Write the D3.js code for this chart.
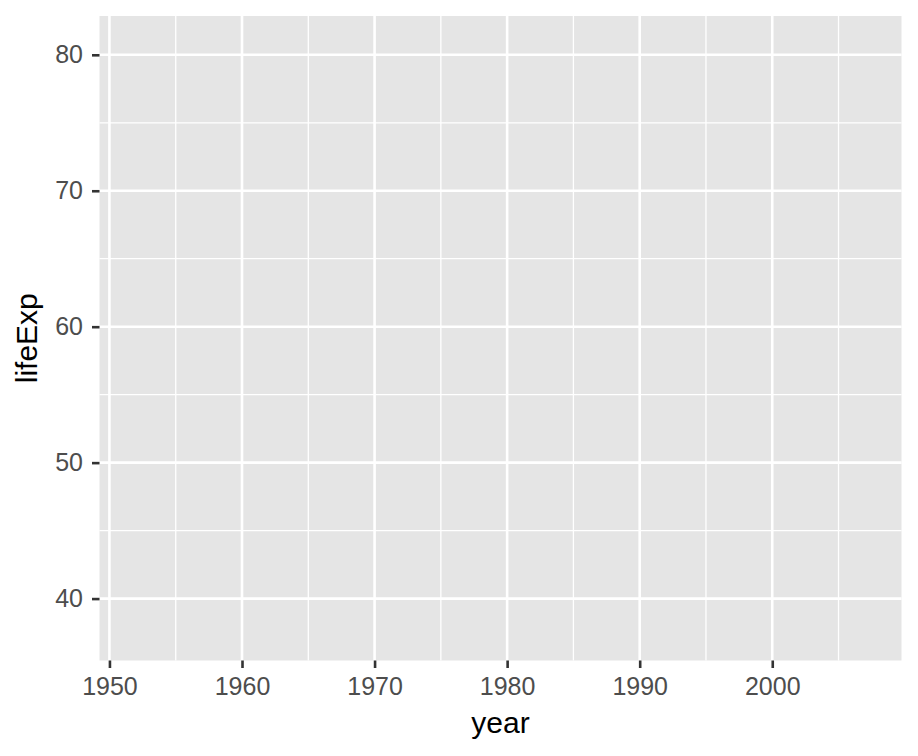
<!DOCTYPE html>
<html><head><meta charset="utf-8">
<script src="https://cdn.jsdelivr.net/npm/d3@7"></script>
<style>body{margin:0;background:#fff}svg{display:block;font-family:"Liberation Sans",Arial,sans-serif}</style>
</head><body><svg id="c" width="918" height="756"></svg>
<script>
const yearRange = [1952, 2007];
const lifeExpRange = [37.6, 80.7];
const xTicks = [1950, 1960, 1970, 1980, 1990, 2000];
const xMinor = [1955, 1965, 1975, 1985, 1995, 2005];
const yTicks = [40, 50, 60, 70, 80];
const yMinor = [35, 45, 55, 65, 75];

const svg = d3.select("#c");
const L = 99.5, R = 901.5, T = 16, B = 660.5;
const pad = (r) => { const d = (r[1]-r[0])*0.05; return [r[0]-d, r[1]+d]; };
const x = d3.scaleLinear().domain(pad(yearRange)).range([L, R]);
const y = d3.scaleLinear().domain(pad(lifeExpRange)).range([B, T]);

svg.append("rect").attr("x", L).attr("y", T).attr("width", R-L).attr("height", B-T).attr("fill", "#e5e5e5");

const inX = v => { const p = x(v); return p >= L && p <= R; };
const inY = v => { const p = y(v); return p >= T && p <= B; };
const g = svg.append("g");
g.selectAll(".vmin").data(xMinor.filter(inX)).join("line")
 .attr("x1", d=>x(d)).attr("x2", d=>x(d)).attr("y1", T).attr("y2", B)
 .attr("stroke", "#fff").attr("stroke-width", 1.3);
g.selectAll(".hmin").data(yMinor.filter(inY)).join("line")
 .attr("y1", d=>y(d)).attr("y2", d=>y(d)).attr("x1", L).attr("x2", R)
 .attr("stroke", "#fff").attr("stroke-width", 1.3);
g.selectAll(".vmaj").data(xTicks).join("line")
 .attr("x1", d=>x(d)).attr("x2", d=>x(d)).attr("y1", T).attr("y2", B)
 .attr("stroke", "#fff").attr("stroke-width", 2.6);
g.selectAll(".hmaj").data(yTicks).join("line")
 .attr("y1", d=>y(d)).attr("y2", d=>y(d)).attr("x1", L).attr("x2", R)
 .attr("stroke", "#fff").attr("stroke-width", 2.6);

const xAxis = svg.append("g").attr("transform", `translate(0,${B})`)
 .call(d3.axisBottom(x).tickValues(xTicks).tickFormat(d3.format("d")).tickSize(7.5).tickPadding(9));
const yAxis = svg.append("g").attr("transform", `translate(${L},0)`)
 .call(d3.axisLeft(y).tickValues(yTicks).tickFormat(d3.format("d")).tickSize(7.5).tickPadding(9));
[xAxis, yAxis].forEach(a => {
  a.select(".domain").remove();
  a.selectAll(".tick line").attr("stroke", "#333").attr("stroke-width", 2.6);
  a.selectAll(".tick text").attr("fill", "#4d4d4d").style("font-size", "25px").style("font-family", '"Liberation Sans",Arial,sans-serif');
});

svg.append("text").attr("x", (L+R)/2).attr("y", 733).attr("text-anchor", "middle")
 .style("font-size", "30px").attr("fill", "#000").text("year");
svg.append("text").attr("transform", `translate(37,${(T+B)/2}) rotate(-90)`).attr("text-anchor", "middle")
 .style("font-size", "30px").attr("fill", "#000").text("lifeExp");
</script></body></html>
